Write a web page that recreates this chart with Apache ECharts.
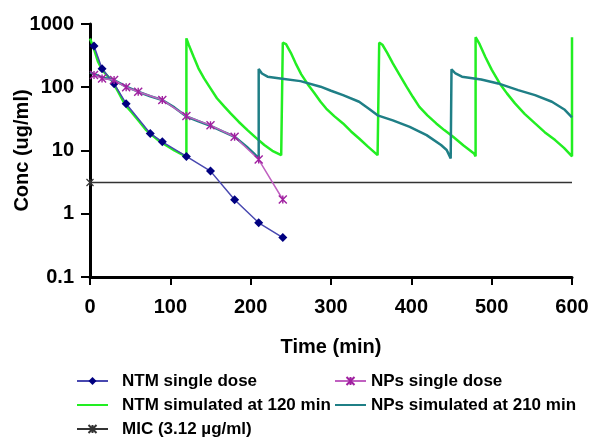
<!DOCTYPE html>
<html>
<head>
<meta charset="utf-8">
<script src="https://cdn.jsdelivr.net/npm/echarts@6/dist/echarts.min.js"></script>
<style>
  html, body { margin: 0; padding: 0; background: #fff; }
  #chart { width: 590px; height: 437px; }
</style>
</head>
<body>
<div id="chart"></div>
<script>
// Time axis ticks (min) and concentration ticks (ug/ml)
const xTickLabels = ['0', '100', '200', '300', '400', '500', '600'];
const yTickLabels = ['0.1', '1', '10', '100', '1000'];

// NTM single dose (measured)
const ntmTime = [5, 15, 30, 45, 75, 90, 120, 150, 180, 210, 240];
const ntmConc = [450, 196, 114, 55, 18.6, 13.7, 8.06, 4.72, 1.66, 0.72, 0.42];

// NPs single dose (measured)
const npTime = [5, 15, 30, 45, 60, 90, 120, 150, 180, 210, 240];
const npConc = [156, 138, 130, 100, 85, 63, 35, 25, 16.5, 7.2, 1.68];

// NTM simulated, redosed every 120 min
const ntmSimTime = [
  0, 5, 10, 15, 20, 27, 35, 44, 52, 60, 70, 77, 85, 94, 105, 112, 120,
  120, 123, 129, 135, 142, 150, 158, 167, 175, 185, 196, 206, 217, 227, 238, 240,
  240, 244, 250, 256, 263, 271, 279, 287, 294, 304, 315, 325, 335, 346, 358, 360,
  360, 364, 370, 377, 385, 394, 402, 410, 420, 431, 441, 452, 465, 478, 480,
  480, 485, 492, 500, 510, 519, 529, 541, 554, 566, 579, 590, 600, 600
];
const ntmSimConc = [
  590, 400, 253, 190, 160, 128, 85, 52, 40, 30, 21, 17.5, 14.5, 12.2, 10, 9, 8,
  593, 465, 304, 199, 138, 96, 67, 50, 38.6, 28.5, 21, 16.1, 12.2, 9.9, 8.45, 8,
  507, 480, 350, 239, 160, 112, 82, 59, 46, 35, 26.8, 20, 15.5, 11.5, 8.45, 8,
  507, 470, 350, 239, 160, 102, 70, 49, 36, 26.8, 21, 16.5, 12, 9, 8.1,
  620, 480, 304, 190, 115, 80, 55.6, 38, 26.8, 19.5, 14.6, 11, 8.1, 620
];

// NPs simulated, redosed at 210 min and then every 240 min
const npSimTime = [
  0, 15, 30, 45, 60, 75, 90, 105, 120, 135, 150, 165, 180, 195, 204, 210,
  210, 214, 221, 237, 262, 287, 300, 315, 335, 348, 358, 377, 398, 419, 437, 444, 449,
  450, 455, 463, 487, 508, 533, 554, 575, 591, 600
];
const npSimConc = [
  172, 143, 130, 102, 85, 72, 63, 48, 34.5, 29, 24.5, 20, 16.5, 11.5, 9, 7.5,
  194, 165, 147, 138, 125, 102, 88, 75, 59, 45, 36, 30, 23.7, 17.5, 12.2, 10.2, 7.5,
  192, 165, 147, 133, 115, 90, 75, 59, 44, 33.5
];

// Minimum inhibitory concentration
const micTime = [0, 600];
const micConc = [3.12, 3.12];

const zip = (t, c) => t.map((v, i) => [v, c[i]]);

const FONT = "'Liberation Sans', Arial, sans-serif";
const STAR = 'path://M0,0L10,10M10,0L0,10M5,0L5,10';
const legendText = { fontFamily: FONT, fontSize: 17, fontWeight: 'bold', color: '#000', lineHeight: 18 };

const chart = echarts.init(document.getElementById('chart'), null, { renderer: 'canvas' });

chart.setOption({
  animation: false,
  backgroundColor: '#ffffff',
  grid: { left: 90, right: 18, top: 24, bottom: 160, outerBoundsMode: 'none', containLabel: false },
  xAxis: {
    type: 'value',
    min: 0, max: 600, interval: 100,
    name: 'Time (min)',
    nameLocation: 'middle',
    nameGap: 60,
    nameMoveOverlap: false,
    nameTextStyle: { fontFamily: FONT, fontSize: 20, fontWeight: 'bold', color: '#000' },
    axisLine: { show: true, lineStyle: { color: '#000', width: 3 } },
    axisTick: { show: true, length: 8, lineStyle: { color: '#000', width: 2 } },
    axisLabel: {
      margin: 20, fontFamily: FONT, fontSize: 20, fontWeight: 'bold', color: '#000',
      formatter: v => xTickLabels[Math.round(v / 100)]
    },
    splitLine: { show: false }
  },
  yAxis: {
    type: 'log',
    logBase: 10,
    min: 0.1, max: 1000,
    name: 'Conc (ug/ml)',
    nameLocation: 'middle',
    nameGap: 58,
    nameMoveOverlap: false,
    nameTextStyle: { fontFamily: FONT, fontSize: 20, fontWeight: 'bold', color: '#000' },
    axisLine: { show: true, lineStyle: { color: '#000', width: 3 } },
    axisTick: { show: true, length: 9, lineStyle: { color: '#000', width: 2 } },
    axisLabel: {
      margin: 16, fontFamily: FONT, fontSize: 20, fontWeight: 'bold', color: '#000',
      formatter: v => yTickLabels[Math.round(Math.log10(v)) + 1]
    },
    splitLine: { show: false }
  },
  legend: [
    {
      data: [
        'NTM single dose',
        { name: 'NTM simulated at 120 min', itemStyle: { opacity: 0 } },
        'MIC (3.12 µg/ml)'
      ],
      orient: 'vertical',
      left: 71, top: 367, height: 90,
      itemWidth: 31, itemHeight: 10, itemGap: 6,
      textStyle: Object.assign({ padding: [0, 0, 0, 9] }, legendText)
    },
    {
      data: [
        'NPs single dose',
        { name: 'NPs simulated at 210 min', itemStyle: { opacity: 0 } }
      ],
      orient: 'vertical',
      left: 329, top: 367, height: 90,
      itemWidth: 31, itemHeight: 10, itemGap: 6,
      textStyle: legendText
    }
  ],
  series: [
    {
      name: 'MIC (3.12 µg/ml)',
      type: 'line',
      z: 1,
      data: zip(micTime, micConc).map((p, i) => i === 0 ? { value: p } : { value: p, symbol: 'none' }),
      symbol: STAR,
      symbolSize: 7,
      itemStyle: { color: '#333', borderColor: '#333', borderWidth: 1.2 },
      lineStyle: { color: '#333', width: 1.3 }
    },
    {
      name: 'NTM simulated at 120 min',
      type: 'line',
      z: 2,
      data: zip(ntmSimTime, ntmSimConc),
      symbol: 'none',
      itemStyle: { color: '#22EE22' },
      lineStyle: { color: '#22EE22', width: 2.5 }
    },
    {
      name: 'NPs simulated at 210 min',
      type: 'line',
      z: 3,
      data: zip(npSimTime, npSimConc),
      symbol: 'none',
      itemStyle: { color: '#1F7F86' },
      lineStyle: { color: '#1F7F86', width: 2.5 }
    },
    {
      name: 'NTM single dose',
      type: 'line',
      z: 4,
      data: zip(ntmTime, ntmConc),
      symbol: 'diamond',
      symbolSize: 9,
      itemStyle: { color: '#000080' },
      lineStyle: { color: '#4848B0', width: 1.5 }
    },
    {
      name: 'NPs single dose',
      type: 'line',
      z: 5,
      data: zip(npTime, npConc),
      symbol: STAR,
      symbolSize: 8,
      itemStyle: { color: '#A020A0', borderColor: '#A020A0', borderWidth: 1.4 },
      lineStyle: { color: '#C060C0', width: 1.5 }
    }
  ]
});
</script>
</body>
</html>
